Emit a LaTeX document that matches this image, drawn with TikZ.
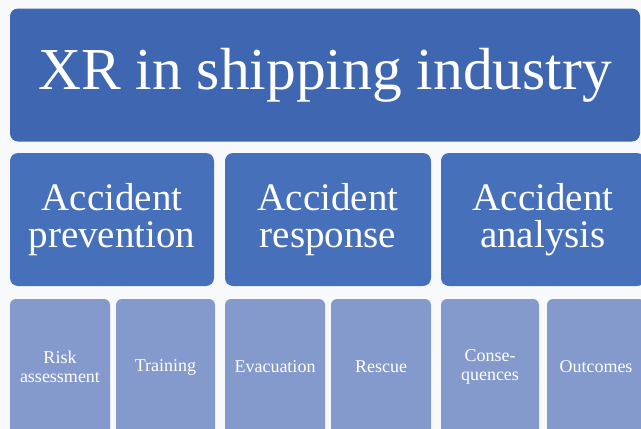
\documentclass[tikz,border=0pt]{standalone}
\usepackage{fontspec}
\setmainfont{Liberation Serif}
\definecolor{bgc}{HTML}{F7F9FA}
\definecolor{topc}{HTML}{3E66B1}
\definecolor{midc}{HTML}{4770BA}
\definecolor{lowc}{HTML}{8499CC}
\begin{document}
\begin{tikzpicture}[x=1pt,y=-1pt,
  box/.style={draw=none, rounded corners=8pt, inner sep=0pt, text=white, align=center},
  topbox/.style={box, fill=topc, font=\fontsize{59.5}{61}\selectfont},
  midbox/.style={box, fill=midc, font=\fontsize{39}{36.5}\selectfont},
  lowbox/.style={box, fill=lowc, rounded corners=6pt, font=\fontsize{18}{18.5}\selectfont}]
\clip (0,0) rectangle (641,429);
\fill[bgc] (0,0) rectangle (641,429);
% top
\node[topbox, minimum width=630pt, minimum height=133pt] (top) at (325,75) {XR in shipping industry};
% middle
\node[midbox, minimum width=204pt, minimum height=133pt] (prev) at (112,219.5) {Accident\\prevention};
\node[midbox, minimum width=206pt, minimum height=133pt] (resp) at (328,219.5) {Accident\\response};
\node[midbox, minimum width=204pt, minimum height=133pt] (anal) at (543,219.5) {Accident\\analysis};
% bottom
\node[lowbox, minimum width=100pt, minimum height=136pt] (risk) at (60,367) {Risk\\assessment};
\node[lowbox, minimum width=99pt, minimum height=136pt] (train) at (165.5,367) {Training};
\node[lowbox, minimum width=100pt, minimum height=136pt] (evac) at (275,367) {Evacuation};
\node[lowbox, minimum width=100pt, minimum height=136pt] (resc) at (381,367) {Rescue};
\node[lowbox, minimum width=98pt, minimum height=136pt] (cons) at (490,367) {Conse-\\quences};
\node[lowbox, minimum width=98pt, minimum height=136pt] (outc) at (596,367) {Outcomes};
\end{tikzpicture}
\end{document}
